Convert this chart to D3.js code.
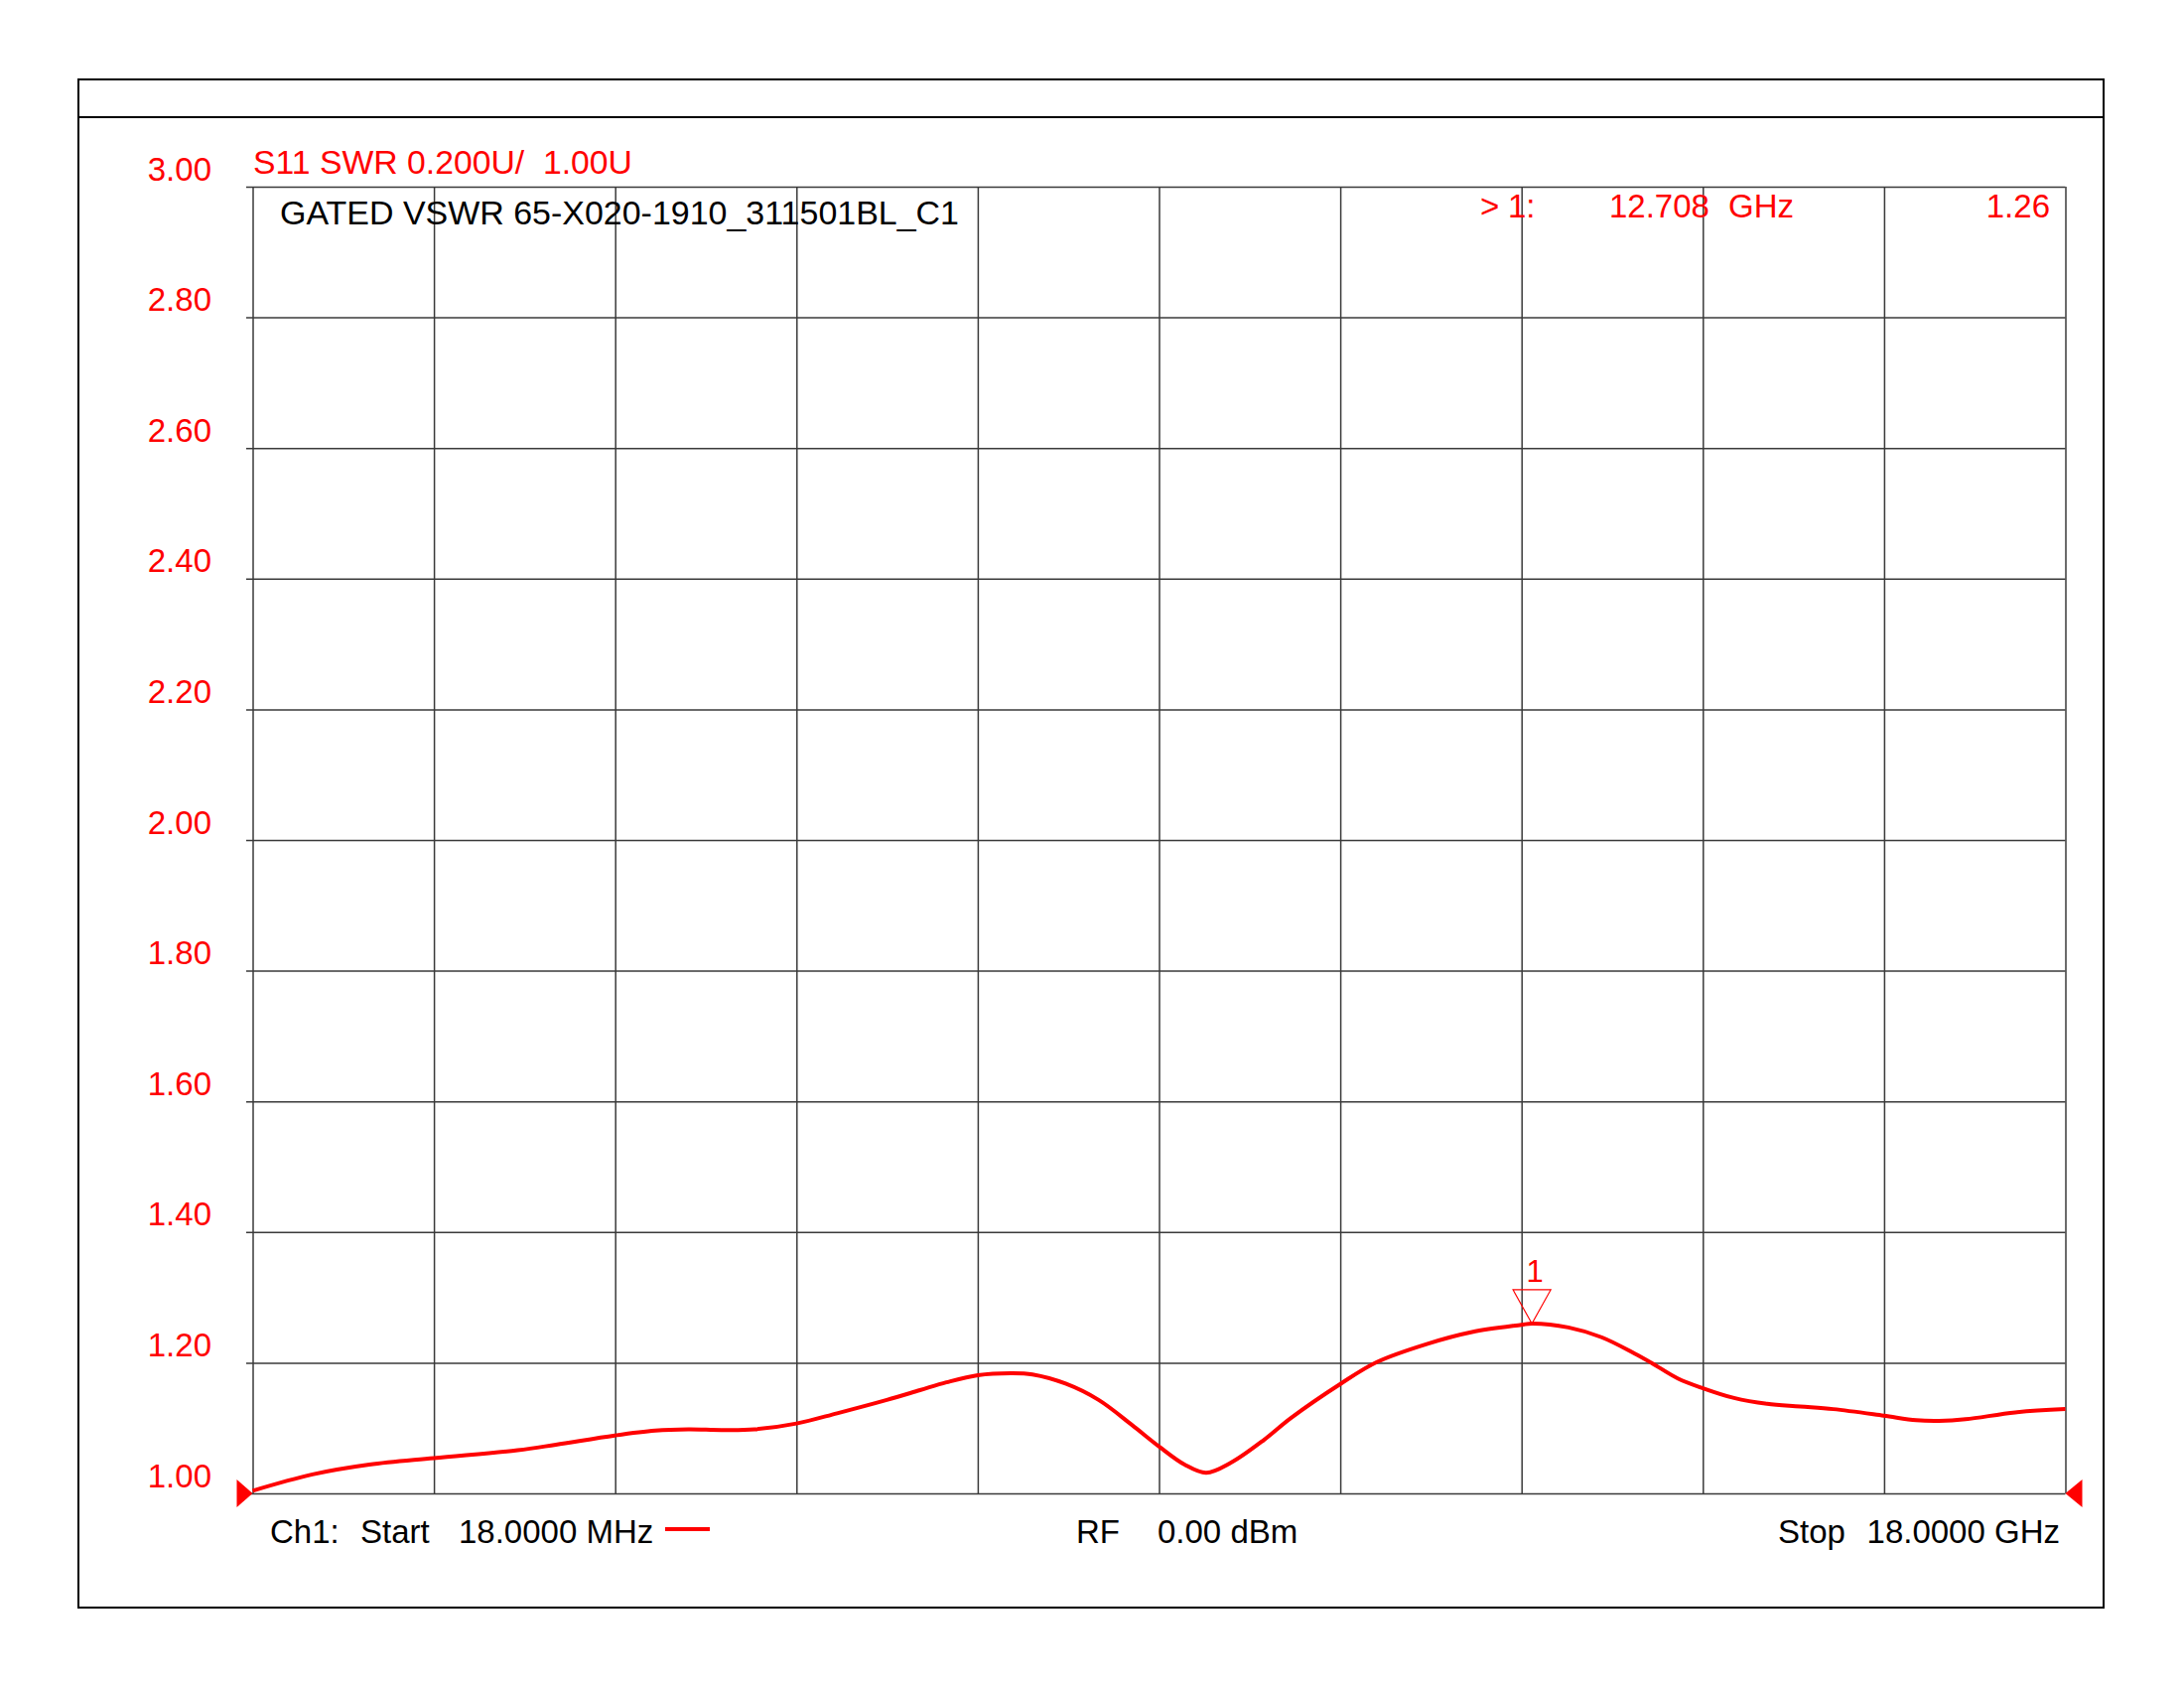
<!DOCTYPE html>
<html>
<head>
<meta charset="utf-8">
<script src="https://cdn.jsdelivr.net/npm/d3@7/dist/d3.min.js"></script>
<style>
html, body { margin: 0; padding: 0; background: #fff; }
svg { display: block; }
text { font-family: "Liberation Sans", Arial, sans-serif; white-space: pre; }
</style>
</head>
<body>
<script>
// ---- data ----
const freqGHz = [0.018, 0.612, 1.175, 1.815, 2.647, 3.026, 3.610, 4.011, 4.339, 4.668, 4.996, 5.413, 5.816, 6.309, 6.638, 6.900, 7.212, 7.557, 7.754, 8.082, 8.410, 8.738, 9.007, 9.263, 9.477, 9.723, 10.051, 10.314, 10.813, 11.170, 11.673, 12.114, 12.603, 12.708, 13.070, 13.399, 13.728, 13.892, 14.155, 14.404, 14.713, 15.041, 15.369, 15.698, 16.197, 16.519, 16.748, 17.011, 17.503, 18.000];
const swr = [1.004, 1.029, 1.044, 1.054, 1.066, 1.0745, 1.0886, 1.096, 1.098, 1.097, 1.098, 1.107, 1.1226, 1.143, 1.158, 1.170, 1.181, 1.184, 1.182, 1.168, 1.143, 1.105, 1.072, 1.044, 1.0315, 1.047, 1.082, 1.115, 1.168, 1.201, 1.229, 1.247, 1.258, 1.260, 1.254, 1.239, 1.214, 1.200, 1.176, 1.161, 1.146, 1.137, 1.133, 1.129, 1.119, 1.112, 1.111, 1.1135, 1.124, 1.129];
const yTicks = [1.00, 1.20, 1.40, 1.60, 1.80, 2.00, 2.20, 2.40, 2.60, 2.80, 3.00];
const yTickLabels = ["1.00", "1.20", "1.40", "1.60", "1.80", "2.00", "2.20", "2.40", "2.60", "2.80", "3.00"];
const startGHz = 0.018, stopGHz = 18.0;
const divisions = 10;
const marker = { id: "1", freq: 12.708, value: 1.26 };
const headerText = "S11 SWR 0.200U/  1.00U";
const titleText = "GATED VSWR 65-X020-1910_311501BL_C1";

// ---- layout ----
const W = 2200, H = 1700;
const plot = { left: 254.5, right: 2080.5, top: 188, bottom: 1504 };
const red = "#ff0000";
const gridColor = "#3a3a3a";
const fs = 33;

const svg = d3.select("body").append("svg").attr("width", W).attr("height", H);

// frame
svg.append("rect").attr("x", 79).attr("y", 80).attr("width", 2040).attr("height", 1539)
  .attr("fill", "none").attr("stroke", "#000").attr("stroke-width", 2);
svg.append("line").attr("x1", 79).attr("x2", 2119).attr("y1", 118).attr("y2", 118)
  .attr("stroke", "#000").attr("stroke-width", 2);

const x = d3.scaleLinear().domain([startGHz, stopGHz]).range([plot.left, plot.right]);
const y = d3.scaleLinear().domain([1.0, 3.0]).range([plot.bottom, plot.top]);

// horizontal grid + y labels
const gx0 = plot.left - 6.5;
const yAxis = d3.axisLeft(y)
  .tickValues(yTicks)
  .tickFormat((d, i) => yTickLabels[i])
  .tickSizeInner(-(plot.right - gx0))
  .tickSizeOuter(0)
  .tickPadding(gx0 - 213);
const yg = svg.append("g").attr("transform", `translate(${gx0},0)`).call(yAxis);
yg.select(".domain").remove();
yg.selectAll(".tick line").attr("stroke", gridColor).attr("stroke-width", 1.5);
yg.selectAll(".tick text").attr("fill", red).attr("font-size", fs)
  .attr("font-family", "Liberation Sans, Arial, sans-serif").attr("dy", -7);

// vertical grid
const xTicks = d3.range(divisions + 1).map(i => startGHz + i * (stopGHz - startGHz) / divisions);
const xAxis = d3.axisBottom(x).tickValues(xTicks).tickFormat("")
  .tickSizeInner(-(plot.bottom - plot.top)).tickSizeOuter(0);
const xg = svg.append("g").attr("transform", `translate(0,${plot.bottom})`).call(xAxis);
xg.select(".domain").remove();
xg.selectAll(".tick line").attr("stroke", gridColor).attr("stroke-width", 1.5);

// trace
const data = freqGHz.map((f, i) => [f, swr[i]]);
const line = d3.line().x(d => x(d[0])).y(d => y(d[1])).curve(d3.curveCatmullRom.alpha(0.5));
svg.append("path").datum(data).attr("d", line)
  .attr("fill", "none").attr("stroke", red).attr("stroke-width", 4).attr("stroke-linejoin", "round");

// start / stop triangles
const sx = x(startGHz), ex = x(stopGHz), by = y(1.0);
svg.append("path").attr("d", `M${sx - 16},${by - 14}L${sx},${by}L${sx - 16},${by + 14}Z`).attr("fill", red);
svg.append("path").attr("d", `M${ex},${by}L${ex + 17},${by - 14}L${ex + 17},${by + 14}Z`).attr("fill", red);

// marker 1
const mx = x(marker.freq), my = y(marker.value);
svg.append("path").attr("d", `M${mx},${my}L${mx - 19},${my - 34}L${mx + 19},${my - 34}Z`)
  .attr("fill", "none").attr("stroke", red).attr("stroke-width", 1.2);
svg.append("text").attr("x", mx + 3).attr("y", my - 42).attr("text-anchor", "middle")
  .attr("font-size", 31).attr("fill", red).text(marker.id);

// header texts
svg.append("text").attr("x", 255).attr("y", 175).attr("font-size", fs).attr("fill", red)
  .attr("textLength", 382).attr("lengthAdjust", "spacingAndGlyphs").text(headerText);
svg.append("text").attr("x", 282).attr("y", 226).attr("font-size", fs).attr("fill", "#000")
  .attr("textLength", 684).attr("lengthAdjust", "spacingAndGlyphs").text(titleText);

// marker readout
svg.append("text").attr("x", 1491).attr("y", 219).attr("font-size", fs).attr("fill", red).text(">");
svg.append("text").attr("x", 1519).attr("y", 219).attr("font-size", fs).attr("fill", red).text("1:");
svg.append("text").attr("x", 1621).attr("y", 219).attr("font-size", fs).attr("fill", red).text(d3.format(".3f")(marker.freq));
svg.append("text").attr("x", 1741).attr("y", 219).attr("font-size", fs).attr("fill", red).text("GHz");
svg.append("text").attr("x", 2065).attr("y", 219).attr("font-size", fs).attr("fill", red)
  .attr("text-anchor", "end").text(d3.format(".2f")(marker.value));

// footer
const fy = 1554;
svg.append("text").attr("x", 272).attr("y", fy).attr("font-size", fs).text("Ch1:");
svg.append("text").attr("x", 363).attr("y", fy).attr("font-size", fs).text("Start");
svg.append("text").attr("x", 462).attr("y", fy).attr("font-size", fs).text("18.0000 MHz");
svg.append("line").attr("x1", 670).attr("x2", 715).attr("y1", 1540).attr("y2", 1540)
  .attr("stroke", red).attr("stroke-width", 4);
svg.append("text").attr("x", 1084).attr("y", fy).attr("font-size", fs).text("RF");
svg.append("text").attr("x", 1166).attr("y", fy).attr("font-size", fs).text("0.00 dBm");
svg.append("text").attr("x", 1791).attr("y", fy).attr("font-size", fs).text("Stop");
svg.append("text").attr("x", 2075).attr("y", fy).attr("font-size", fs).attr("text-anchor", "end").text("18.0000 GHz");
</script>
</body>
</html>
